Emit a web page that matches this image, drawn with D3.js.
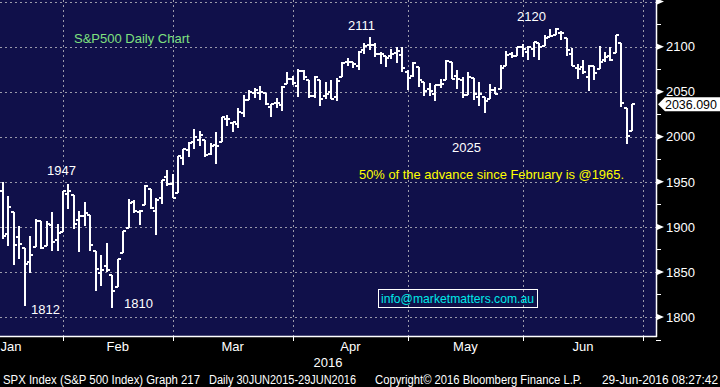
<!DOCTYPE html>
<html>
<head>
<meta charset="utf-8">
<script src="https://cdn.jsdelivr.net/npm/d3@7"></script>
<style>
  body { margin: 0; background: #000; }
  text { font-family: "Liberation Sans", Arial, sans-serif; }
</style>
</head>
<body>
<div id="chart"></div>
<script>
// trading days shown (2016), Jan 13 -> Jun 28
const days = [
    "01-13","01-14","01-15","01-19","01-20","01-21","01-22","01-25","01-26","01-27","01-28","01-29",
    "02-01","02-02","02-03","02-04","02-05","02-08","02-09","02-10","02-11","02-12","02-16","02-17","02-18","02-19","02-22","02-23","02-24","02-25","02-26","02-29",
    "03-01","03-02","03-03","03-04","03-07","03-08","03-09","03-10","03-11","03-14","03-15","03-16","03-17","03-18","03-21","03-22","03-23","03-24","03-28","03-29","03-30","03-31",
    "04-01","04-04","04-05","04-06","04-07","04-08","04-11","04-12","04-13","04-14","04-15","04-18","04-19","04-20","04-21","04-22","04-25","04-26","04-27","04-28","04-29",
    "05-02","05-03","05-04","05-05","05-06","05-09","05-10","05-11","05-12","05-13","05-16","05-17","05-18","05-19","05-20","05-23","05-24","05-25","05-26","05-27","05-31",
    "06-01","06-02","06-03","06-06","06-07","06-08","06-09","06-10","06-13","06-14","06-15","06-16","06-17","06-20","06-21","06-22","06-23","06-24","06-27","06-28"
];
// empty slots the axis still reserves at the end of June
const futureDays = ["06-29", "06-30"];

const opens = [
    1940.3,1891.7,1916.7,1888.7,1876.2,1861.5,1877.4,1906.3,1878.8,1902.5,1885.2,1894.0,
    1936.9,1935.3,1907.1,1911.7,1913.1,1873.3,1848.5,1857.1,1847.0,1833.4,1871.4,1898.8,1927.6,1916.7,1924.4,1942.4,1917.6,1931.9,1955.0,1947.1,
    1937.1,1976.6,1985.6,1994.0,1996.1,1996.9,1981.4,1991.0,1994.7,2019.3,2015.3,2014.2,2026.9,2041.2,2048.6,2048.6,2048.6,2032.5,2037.9,2035.8,2058.3,2063.8,
    2056.6,2073.2,2062.5,2045.6,2063.0,2045.5,2050.2,2043.7,2065.9,2082.9,2083.1,2078.8,2096.1,2101.5,2102.1,2091.5,2089.4,2089.8,2092.6,2090.9,2071.8,
    2067.2,2077.2,2060.3,2053.0,2047.8,2057.6,2062.6,2083.3,2067.2,2062.5,2046.5,2065.0,2044.4,2044.2,2041.9,2052.2,2052.7,2078.9,2091.4,2090.1,2100.1,
    2093.9,2097.7,2104.1,2100.8,2110.2,2112.7,2115.7,2109.6,2091.8,2076.7,2077.6,2066.4,2078.2,2075.6,2085.2,2089.8,2092.8,2103.8,2031.5,2006.7
];
const highs = [
    1950.3,1934.5,1916.7,1901.4,1876.2,1889.9,1908.9,1906.3,1906.7,1917.0,1903.0,1940.2,
    1947.2,1935.3,1918.0,1927.4,1913.1,1873.3,1868.3,1881.6,1847.0,1864.8,1895.8,1930.7,1930.0,1918.8,1946.7,1942.4,1932.1,1951.8,1963.0,1958.3,
    1978.4,1986.5,1993.7,2009.1,2006.1,1996.9,1992.7,2005.1,2022.4,2024.6,2015.9,2032.0,2046.2,2052.4,2053.9,2056.6,2048.6,2036.0,2042.7,2055.9,2072.2,2067.9,
    2075.1,2074.0,2062.5,2067.3,2063.0,2060.6,2062.9,2065.1,2083.2,2087.8,2083.2,2094.7,2104.1,2111.1,2103.8,2094.3,2089.4,2096.9,2099.9,2099.3,2073.9,
    2083.4,2077.2,2060.3,2060.2,2057.7,2064.2,2084.9,2083.3,2074.0,2066.8,2071.9,2065.7,2060.6,2044.2,2058.4,2055.6,2079.7,2094.7,2094.3,2099.1,2103.5,
    2101.0,2105.3,2104.1,2113.4,2119.2,2120.6,2117.6,2109.6,2098.1,2081.3,2085.7,2079.6,2078.2,2100.7,2093.7,2099.7,2113.3,2103.8,2031.5,2036.1
];
const lows = [
    1886.3,1878.9,1857.8,1864.6,1812.3,1849.0,1877.4,1876.0,1878.8,1872.7,1873.7,1894.0,
    1920.0,1897.3,1872.2,1900.5,1872.7,1828.5,1834.9,1850.3,1810.1,1833.4,1871.4,1898.8,1915.1,1902.2,1924.4,1919.4,1891.0,1925.4,1945.8,1931.8,
    1937.1,1968.8,1977.4,1986.8,1989.4,1977.4,1979.8,1969.3,1994.7,2012.1,2005.2,2010.0,2022.2,2041.2,2043.1,2040.6,2034.9,2022.5,2032.0,2028.3,2058.3,2057.5,
    2044.0,2062.6,2042.6,2043.1,2033.8,2041.7,2041.9,2039.7,2065.9,2078.1,2076.3,2073.7,2091.7,2096.3,2088.5,2081.2,2077.5,2085.8,2082.3,2071.6,2052.3,
    2066.1,2054.9,2045.6,2045.8,2039.5,2054.3,2062.6,2064.5,2053.1,2043.1,2046.5,2040.8,2034.5,2025.9,2041.9,2047.3,2052.7,2078.9,2087.1,2090.1,2088.7,
    2085.1,2088.6,2085.4,2100.8,2110.2,2112.7,2107.7,2090.0,2078.5,2064.1,2069.8,2050.4,2062.8,2075.6,2083.0,2084.4,2092.8,2032.6,1991.7,2006.7
];
const closes = [
    1890.3,1921.8,1880.3,1881.3,1859.3,1869.0,1906.9,1877.1,1903.6,1883.0,1893.4,1940.2,
    1939.4,1903.0,1912.5,1915.5,1880.1,1853.4,1852.2,1851.9,1829.1,1864.8,1895.6,1926.8,1917.8,1917.8,1945.5,1921.3,1929.8,1951.7,1948.1,1932.2,
    1978.4,1986.5,1993.4,2000.0,2001.8,1979.3,1989.3,1989.6,2022.2,2019.6,2015.9,2027.2,2040.6,2049.6,2051.6,2049.8,2036.7,2035.9,2037.1,2055.0,2064.0,2059.7,
    2072.8,2066.1,2045.2,2066.7,2041.9,2047.6,2042.0,2061.7,2082.4,2082.8,2080.7,2094.3,2100.8,2102.4,2091.5,2091.6,2087.8,2091.7,2095.2,2075.8,2065.3,
    2081.4,2063.4,2051.1,2050.6,2057.1,2058.7,2084.4,2064.5,2064.1,2046.6,2066.7,2047.2,2047.6,2040.0,2052.3,2048.0,2076.1,2090.5,2090.1,2099.1,2097.0,
    2099.3,2105.3,2099.1,2109.4,2112.1,2119.1,2115.5,2096.1,2079.1,2075.3,2071.5,2078.0,2071.2,2083.3,2088.9,2085.5,2113.3,2037.4,2000.5,2036.1
];

const lastPrice = "2036.090";
const majorTicks = [1800, 1850, 1900, 1950, 2000, 2050, 2100, 2150];
const minorTicks = [1775, 1825, 1875, 1925, 1975, 2025, 2075, 2125];
const months = ["Jan", "Feb", "Mar", "Apr", "May", "Jun"];
const monthEnds = ["01-29", "02-29", "03-31", "04-29", "05-31", "06-30"];
const janTradingDays = 19;

const width = 720, height = 387;
const plotRight = 656, plotBottom = 336;

const svg = d3.select("#chart").append("svg")
    .attr("width", width)
    .attr("height", height)
    .style("background", "#000");

svg.append("rect")
    .attr("x", 0).attr("y", 0)
    .attr("width", plotRight).attr("height", plotBottom)
    .attr("fill", "#10104a");

var x = d3.scalePoint()
    .domain(days.concat(futureDays))
    .range([2.8, 643.3]);

var y = d3.scaleLinear()
    .domain([1778.9, 2151.8])
    .range([plotBottom, 0]);

// dashed grid
svg.append("g").selectAll("line")
    .data(majorTicks)
    .enter().append("line")
    .attr("x1", 0).attr("x2", plotRight)
    .attr("y1", d => Math.round(y(d)) + 0.5)
    .attr("y2", d => Math.round(y(d)) + 0.5)
    .attr("stroke", "#9a9aaa")
    .attr("stroke-dasharray", "2,3");

svg.append("g").selectAll("line")
    .data(monthEnds)
    .enter().append("line")
    .attr("y1", 0).attr("y2", plotBottom)
    .attr("x1", d => Math.round(x(d)) + 0.5)
    .attr("x2", d => Math.round(x(d)) + 0.5)
    .attr("stroke", "#9a9aaa")
    .attr("stroke-dasharray", "2,3");

// OHLC bars
var bars = days.map((d, i) => ({ day: d, o: opens[i], h: highs[i], l: lows[i], c: closes[i] }));
var barG = svg.append("g")
    .attr("stroke", "#fff")
    .attr("stroke-width", 2)
    .attr("shape-rendering", "crispEdges");

barG.selectAll(".hl").data(bars).enter().append("line")
    .attr("class", "hl")
    .attr("x1", d => x(d.day)).attr("x2", d => x(d.day))
    .attr("y1", d => y(d.h)).attr("y2", d => y(d.l));
barG.selectAll(".op").data(bars).enter().append("line")
    .attr("class", "op")
    .attr("x1", d => x(d.day) - 3).attr("x2", d => x(d.day))
    .attr("y1", d => y(d.o)).attr("y2", d => y(d.o));
barG.selectAll(".cl").data(bars).enter().append("line")
    .attr("class", "cl")
    .attr("x1", d => x(d.day)).attr("x2", d => x(d.day) + 3)
    .attr("y1", d => y(d.c)).attr("y2", d => y(d.c));

// axes frame
svg.append("line")
    .attr("x1", 0).attr("x2", plotRight + 1)
    .attr("y1", plotBottom + 0.5).attr("y2", plotBottom + 0.5)
    .attr("stroke", "#fff").attr("stroke-width", 1.5);
svg.append("line")
    .attr("x1", plotRight + 0.5).attr("x2", plotRight + 0.5)
    .attr("y1", 0).attr("y2", plotBottom + 1)
    .attr("stroke", "#fff").attr("stroke-width", 1.5);

// x ticks + month labels
svg.append("g").selectAll("line")
    .data(monthEnds)
    .enter().append("line")
    .attr("x1", d => Math.round(x(d)) + 0.5).attr("x2", d => Math.round(x(d)) + 0.5)
    .attr("y1", plotBottom).attr("y2", plotBottom + 5)
    .attr("stroke", "#fff");

var step = x.step();
var bounds = [x(monthEnds[0]) - janTradingDays * step].concat(monthEnds.map(d => x(d)));
svg.append("g").selectAll("text")
    .data(months)
    .enter().append("text")
    .attr("x", (d, i) => (bounds[i] + bounds[i + 1]) / 2)
    .attr("y", 351)
    .attr("text-anchor", "middle")
    .attr("fill", "#fff")
    .attr("font-size", 13)
    .text(d => d);

svg.append("text")
    .attr("x", 328).attr("y", 367)
    .attr("text-anchor", "middle")
    .attr("fill", "#fff").attr("font-size", 13)
    .text("2016");

// right axis
var yAxis = svg.append("g")
    .attr("transform", "translate(" + plotRight + ",0)")
    .call(d3.axisRight(y)
        .tickValues(majorTicks.filter(v => v < 2150))
        .tickFormat(d3.format("d"))
        .tickSize(0).tickPadding(10));
yAxis.select(".domain").remove();
yAxis.selectAll("text")
    .attr("fill", "#fff")
    .attr("font-size", 13)
    .attr("font-family", "\"Liberation Sans\", Arial, sans-serif");

svg.append("g").selectAll("path")
    .data(majorTicks)
    .enter().append("path")
    .attr("d", d => "M" + (plotRight + 1) + "," + (y(d) - 3) + "L" + (plotRight + 8) + "," + y(d) + "L" + (plotRight + 1) + "," + (y(d) + 3) + "Z")
    .attr("fill", "#fff");

svg.append("g").selectAll("line")
    .data(minorTicks)
    .enter().append("line")
    .attr("x1", plotRight).attr("x2", plotRight + 5)
    .attr("y1", d => Math.round(y(d)) + 0.5).attr("y2", d => Math.round(y(d)) + 0.5)
    .attr("stroke", "#fff");

// last price tag
var py = y(closes[closes.length - 1]);
svg.append("path")
    .attr("d", "M" + (plotRight + 2) + "," + py + "L" + (plotRight + 9) + "," + (py - 7) + "L720," + (py - 7) + "L720," + (py + 7) + "L" + (plotRight + 9) + "," + (py + 7) + "Z")
    .attr("fill", "#fff");
svg.append("text")
    .attr("x", 665).attr("y", py + 5)
    .attr("fill", "#000").attr("font-size", 13)
    .attr("textLength", 52).attr("lengthAdjust", "spacingAndGlyphs")
    .text(lastPrice);

// annotations
svg.append("text").attr("x", 74).attr("y", 43)
    .attr("fill", "#7fe07f").attr("font-size", 13)
    .text("S&P500 Daily Chart");

var notes = [
    { t: "1947", x: 47, y: 175 },
    { t: "1812", x: 31, y: 314 },
    { t: "1810", x: 124, y: 308 },
    { t: "2111", x: 348, y: 30 },
    { t: "2120", x: 517, y: 21 },
    { t: "2025", x: 452, y: 152 }
];
svg.append("g").selectAll("text")
    .data(notes)
    .enter().append("text")
    .attr("x", d => d.x).attr("y", d => d.y)
    .attr("fill", "#fff").attr("font-size", 13)
    .text(d => d.t);

svg.append("text").attr("x", 359).attr("y", 179)
    .attr("fill", "#ffff00").attr("font-size", 13)
    .attr("textLength", 265).attr("lengthAdjust", "spacingAndGlyphs")
    .text("50% of the advance since February is @1965.");

svg.append("rect")
    .attr("x", 378.5).attr("y", 289.5)
    .attr("width", 159).attr("height", 18)
    .attr("fill", "none").attr("stroke", "#fff");
svg.append("text").attr("x", 381).attr("y", 303)
    .attr("fill", "#00e8e8").attr("font-size", 13)
    .attr("textLength", 153).attr("lengthAdjust", "spacingAndGlyphs")
    .text("info@marketmatters.com.au");

// footer
var footer = [
    { t: "SPX Index (S&P 500 Index) Graph 217", x: 3, w: 197 },
    { t: "Daily 30JUN2015-29JUN2016", x: 209, w: 147 },
    { t: "Copyright\u00a9 2016 Bloomberg Finance L.P.", x: 375, w: 207 },
    { t: "29-Jun-2016 08:27:42", x: 602, w: 116 }
];
svg.append("g").selectAll("text")
    .data(footer)
    .enter().append("text")
    .attr("x", d => d.x).attr("y", 384)
    .attr("fill", "#fff").attr("font-size", 12)
    .attr("textLength", d => d.w).attr("lengthAdjust", "spacingAndGlyphs")
    .text(d => d.t);
</script>
</body>
</html>
